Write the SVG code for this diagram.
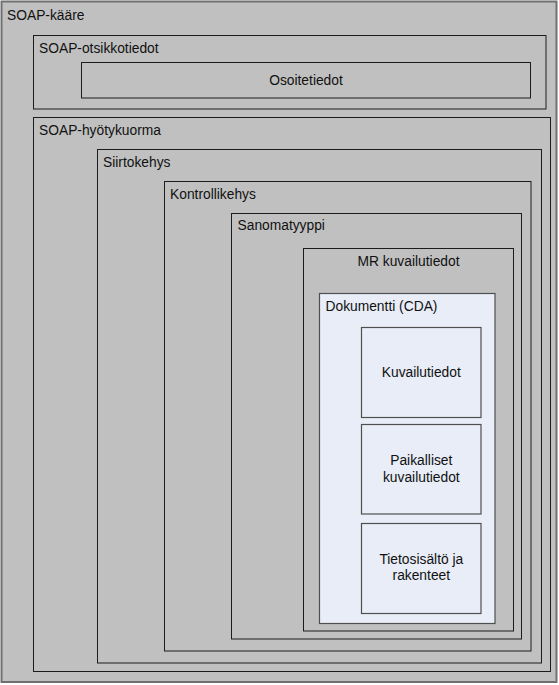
<svg xmlns="http://www.w3.org/2000/svg" width="559" height="685" viewBox="0 0 559 685">
<style>
.g{fill:#c0c0c0;stroke:#1c1c1c;stroke-width:1}
.b{fill:#e8edf7;stroke:#4f4f4f;stroke-width:1.2}
text{font-family:"Liberation Sans",Arial,sans-serif;font-size:13.8px;fill:#111}
.c{text-anchor:middle}
</style>
<rect width="559" height="685" fill="#ffffff"/>
<g id="soap-kaare">
<rect x="1.5" y="1.5" width="555" height="680.5" fill="#c0c0c0" stroke="#707070" stroke-width="2"/>
<text x="7" y="20">SOAP-kääre</text>
</g>
<g id="soap-otsikkotiedot">
<rect class="g" x="33.5" y="35.5" width="512.5" height="73.5"/>
<text x="39" y="52.5">SOAP-otsikkotiedot</text>
</g>
<g id="osoitetiedot">
<rect class="g" x="81.5" y="62.5" width="449" height="35.5" stroke="#333"/>
<text class="c" x="306" y="84.5">Osoitetiedot</text>
</g>
<g id="soap-hyotykuorma">
<rect class="g" x="33.5" y="117.5" width="517" height="554" stroke="#2a2a2a"/>
<text x="39" y="135">SOAP-hyötykuorma</text>
</g>
<g id="siirtokehys">
<rect class="g" x="97.5" y="149.5" width="444" height="513.5"/>
<text x="103" y="166.5">Siirtokehys</text>
</g>
<g id="kontrollikehys">
<rect class="g" x="164.5" y="181.5" width="366.5" height="469.5" stroke="#111"/>
<text x="170" y="198.5">Kontrollikehys</text>
</g>
<g id="sanomatyyppi">
<rect class="g" x="231.5" y="213.5" width="290" height="425.5" stroke="#4a4a4a"/>
<text x="237.5" y="230">Sanomatyyppi</text>
</g>
<g id="mr-kuvailutiedot">
<rect class="g" x="303.5" y="248.5" width="210" height="382.5" stroke="#111"/>
<text class="c" x="408.5" y="265.5">MR kuvailutiedot</text>
</g>
<g id="dokumentti">
<rect class="b" x="319.5" y="293.5" width="175.5" height="330"/>
<text x="325.5" y="311">Dokumentti (CDA)</text>
</g>
<g id="kuvailutiedot">
<rect class="b" x="361.5" y="327.5" width="119.5" height="90"/>
<text class="c" x="421.3" y="377">Kuvailutiedot</text>
</g>
<g id="paikalliset-kuvailutiedot">
<rect class="b" x="361.5" y="424.5" width="119.5" height="89.5"/>
<text class="c" x="421.3" y="465">Paikalliset</text>
<text class="c" x="421.3" y="481.5">kuvailutiedot</text>
</g>
<g id="tietosisalto">
<rect class="b" x="361.5" y="523.5" width="119.5" height="90"/>
<text class="c" x="421.3" y="563.5">Tietosisältö ja</text>
<text class="c" x="421.3" y="580">rakenteet</text>
</g>
<g id="connectors"/>
</svg>
